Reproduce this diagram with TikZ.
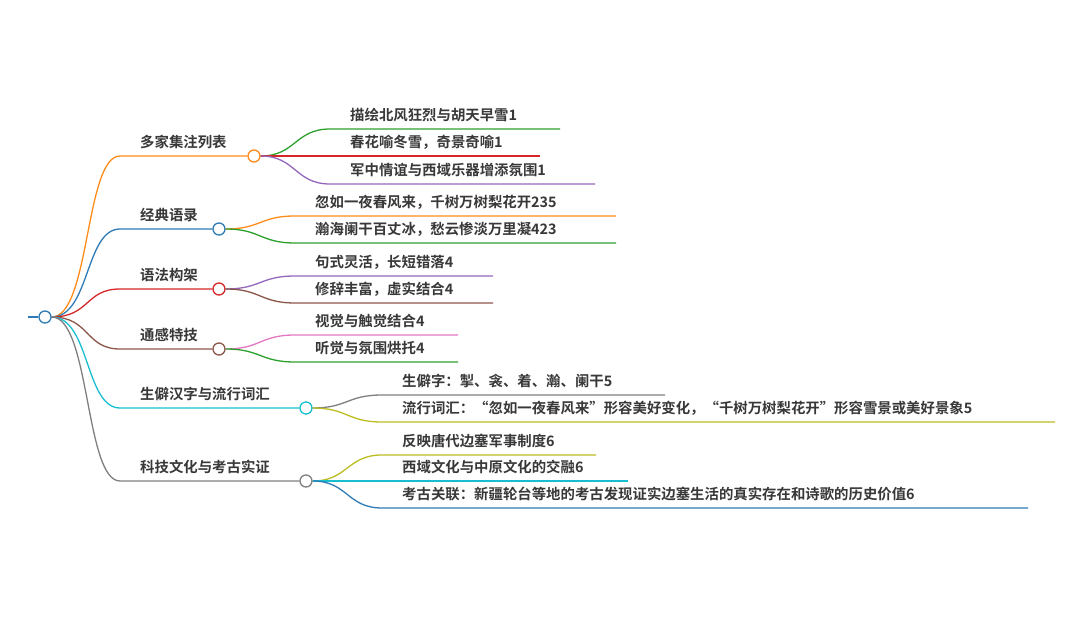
\documentclass[tikz,border=0pt]{standalone}
\usepackage{fontspec}
\usetikzlibrary{calc}
\newfontfamily\cjk[BoldFont={Noto Sans CJK SC Bold}]{Noto Sans CJK SC}
\definecolor{tor}{HTML}{FF8C1A}
\definecolor{tbl}{HTML}{2E7BB6}
\definecolor{trd}{HTML}{D62728}
\definecolor{tbr}{HTML}{8C564B}
\definecolor{tcy}{HTML}{17BECF}
\definecolor{tgy}{HTML}{7F7F7F}
\definecolor{tgr}{HTML}{2CA02C}
\definecolor{tpu}{HTML}{9467BD}
\definecolor{tpk}{HTML}{E377C2}
\definecolor{tol}{HTML}{BCBD22}
\begin{document}
\begin{tikzpicture}[x=1pt,y=-1pt,
  br/.style={line width=1.3pt},
  dot/.style={circle,draw,line width=1.3pt,fill=white,minimum size=12pt,inner sep=0pt},
  lab/.style={anchor=base west,inner sep=0pt,font=\cjk\bfseries\fontsize{14.4}{15}\selectfont,text=black!78}]
\useasboundingbox (0,0) rectangle (1080,617);
\coordinate (r0) at (28,317);
\node[dot,draw=tbl] (root) at (45,317) {};
\draw[br,tbl] (r0) -- (root.west);
% level 1
\foreach \n/\x/\y/\c/\t in {a/254/156/tor/多家集注列表, b/219/229/tbl/经典语录, c/219/289/trd/语法构架, d/219/349/tbr/通感特技, e/306/408/tcy/生僻汉字与流行词汇, f/306/481/tgy/科技文化与考古实证}{
  \coordinate (\n s) at (120,\y);
  \node[dot,draw=\c] (\n) at (\x,\y) {};
  \draw[br,\c] (root.east) .. controls (90,317) and (85,\y) .. (\n s) -- (\n.west);
  \node[lab] (\n t) at (140,\y-8) {\t};
}
% level 2
\foreach \p/\px/\ex/\y/\e/\c/\t/\k in {
 a/330/350/129/560/tgr/描绘北风狂烈与胡天早雪1/a1,
 a/330/350/156/540/trd/春花喻冬雪，奇景奇喻1/a2,
 a/330/350/184/595/tpu/军中情谊与西域乐器增添氛围1/a3,
 b/295/315/216/616/tor/忽如一夜春风来，千树万树梨花开235/b1,
 b/295/315/243/616/tgr/瀚海阑干百丈冰，愁云惨淡万里凝423/b2,
 c/295/315/276/493/tpu/句式灵活，长短错落4/c1,
 c/295/315/303/493/tbr/修辞丰富，虚实结合4/c2,
 d/295/315/335/458/tpk/视觉与触觉结合4/d1,
 d/295/315/362/458/tgr/听觉与氛围烘托4/d2,
 e/382/402/395/665/tgy/生僻字：掣、衾、着、瀚、阑干5/e1,
 e/382/402/422/1055/tol/流行词汇：“忽如一夜春风来”形容美好变化，“千树万树梨花开”形容雪景或美好景象5/e2,
 f/382/402/455/596/tol/反映唐代边塞军事制度6/f1,
 f/382/402/481/628/tcy/西域文化与中原文化的交融6/f2,
 f/382/402/508/1028/tbl/考古关联：新疆轮台等地的考古发现证实边塞生活的真实存在和诗歌的历史价值6/f3}{
  \coordinate (\k e) at (\e,\y);
  \coordinate (\k m) at (\px,\y);
  \draw[br,\c] (\p.east) .. controls ($(\p.east)+(35,0)$) and ($(\k m)+(-35,0)$) .. (\k m) -- (\k e);
  \node[lab] (\k t) at (\ex,\y-8) {\t};
}
\end{tikzpicture}
\end{document}
